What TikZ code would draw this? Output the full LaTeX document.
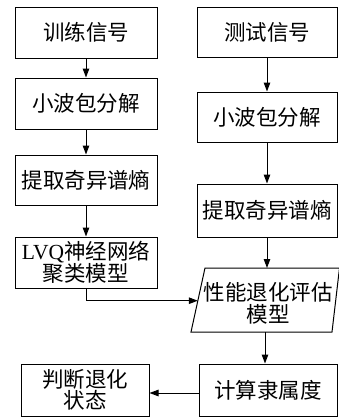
\documentclass[tikz,border=0pt]{standalone}
\usepackage{fontspec}
\setmainfont{Liberation Serif}
\newfontfamily\cjk{Noto Sans CJK SC}
\usetikzlibrary{arrows.meta}
\begin{document}
\begin{tikzpicture}[x=1pt,y=1pt,
  box/.style={draw,line width=1pt,inner sep=0pt,align=center,
    font=\fontsize{21.5}{21.5}\selectfont\cjk},
  lbox/.style={box,minimum width=142pt},
  rbox/.style={box,minimum width=140pt},
  arr/.style={line width=1pt,-{Triangle[length=9pt,width=6.5pt]}},
  ln/.style={line width=1pt}]
\useasboundingbox (0,0) rectangle (339,-418);
% left column
\node[lbox,minimum height=51pt] (L1) at (86,-32.5) {训练信号};
\node[lbox,minimum height=51pt] (L2) at (86,-103.5) {小波包分解};
\node[lbox,minimum height=50pt] (L3) at (86,-180) {提取奇异谱熵};
\node[lbox,minimum height=51pt] (LVQ) at (86,-262.5) {{\rmfamily LVQ}神经网络\\聚类模型};
\node[box,minimum width=128pt,minimum height=52pt] (J) at (85,-390) {判断退化\\状态};
% right column
\node[rbox,minimum height=50pt] (R1) at (267,-32) {测试信号};
\node[rbox,minimum height=50pt] (R2) at (267,-117) {小波包分解};
\node[rbox,minimum height=53pt] (R3) at (267,-210.5) {提取奇异谱熵};
\node[rbox,minimum width=138pt,minimum height=52pt] (R4) at (268,-390) {计算隶属度};
% parallelogram
\draw[ln] (205,-268) -- (339.5,-268) -- (332,-332) -- (191,-332) -- cycle;
\node[font=\fontsize{21.5}{22}\selectfont\cjk,align=center,inner sep=0pt] (P) at (268,-303) {性能退化评估\\模型};
\coordinate (pt) at (267,-268);
\coordinate (pb) at (265,-332);
\coordinate (pl) at (197.8,-300.7);
% connectors
\draw[arr] (L1) -- (L2);
\draw[arr] (L2) -- (L3);
\draw[arr] (L3) -- (LVQ);
\draw[arr] (LVQ.south) |- (pl);
\draw[arr] (R1) -- (R2);
\draw[arr] (R2) -- (R3);
\draw[arr] (R3.south) -- (pt);
\draw[arr] (pb) -- (pb |- R4.north);
\draw[arr] ([yshift=-3pt]R4.west) -- ([yshift=-3pt]J.east);
\end{tikzpicture}
\end{document}
